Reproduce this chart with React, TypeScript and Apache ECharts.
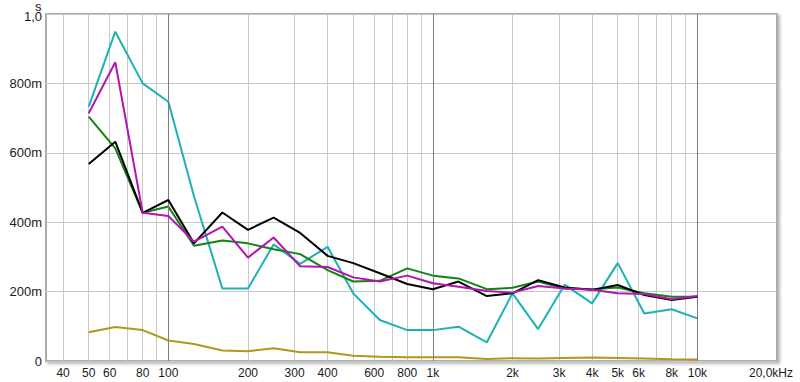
import React, { useEffect, useRef } from "react";
import * as echarts from "echarts";

const freqs = [50, 63, 80, 100, 125, 160, 200, 250, 315, 400, 500, 630, 800, 1000, 1250, 1600, 2000, 2500, 3150, 4000, 5000, 6300, 8000, 10000];

const cyanValues = [0.733, 0.949, 0.8, 0.747, 0.475, 0.209, 0.209, 0.336, 0.28, 0.329, 0.195, 0.118, 0.089, 0.089, 0.099, 0.054, 0.195, 0.092, 0.22, 0.166, 0.282, 0.137, 0.149, 0.123];
const magentaValues = [0.714, 0.861, 0.427, 0.418, 0.344, 0.387, 0.298, 0.356, 0.273, 0.271, 0.241, 0.229, 0.246, 0.224, 0.214, 0.202, 0.197, 0.216, 0.209, 0.205, 0.195, 0.193, 0.178, 0.187];
const greenValues = [0.704, 0.613, 0.427, 0.445, 0.332, 0.347, 0.339, 0.322, 0.308, 0.262, 0.229, 0.231, 0.267, 0.246, 0.238, 0.207, 0.211, 0.229, 0.209, 0.207, 0.212, 0.195, 0.185, 0.185];
const blackValues = [0.568, 0.632, 0.427, 0.464, 0.339, 0.428, 0.378, 0.413, 0.369, 0.303, 0.282, 0.253, 0.222, 0.207, 0.229, 0.187, 0.195, 0.233, 0.212, 0.205, 0.219, 0.19, 0.176, 0.185];
const oliveValues = [0.083, 0.098, 0.089, 0.059, 0.049, 0.03, 0.028, 0.037, 0.025, 0.025, 0.015, 0.012, 0.011, 0.011, 0.011, 0.006, 0.008, 0.007, 0.009, 0.01, 0.009, 0.007, 0.005, 0.004];

const gridFreqs = [40, 50, 60, 70, 80, 90, 100, 200, 300, 400, 500, 600, 700, 800, 900, 1000, 2000, 3000, 4000, 5000, 6000, 7000, 8000, 9000, 10000];
const majorFreqs = [100, 1000, 10000];
const labelFreqs = [40, 50, 60, 80, 100, 200, 300, 400, 600, 800, 1000, 2000, 3000, 4000, 5000, 6000, 8000, 10000, 20000];
const labelTexts = ["40", "50", "60", "80", "100", "200", "300", "400", "600", "800", "1k", "2k", "3k", "4k", "5k", "6k", "8k", "10k", "20,0kHz"];

const yTicks = [0, 0.2, 0.4, 0.6, 0.8, 1.0];
const yTickTexts = ["0", "200m", "400m", "600m", "800m", "1,0"];

const X_MIN_FREQ = 34.47;
const X_MAX_FREQ = 20000;

const FONT = '"Liberation Sans", Arial, sans-serif';

const lg = (f: number) => Math.log10(f);

export default function App() {
  const ref = useRef<HTMLDivElement>(null);

  useEffect(() => {
    if (!ref.current) return;
    const chart = echarts.init(ref.current, undefined, { renderer: "svg" });

    const mk = (name: string, values: number[], color: string, z: number) => ({
      name,
      type: "line",
      data: freqs.map((f, i) => [lg(f), values[i]]),
      symbol: "none",
      z,
      lineStyle: { color, width: 2 },
      itemStyle: { color },
    });

    const labelMap: Record<number, string> = {};
    labelFreqs.forEach((f, i) => (labelMap[f] = labelTexts[i]));

    chart.setOption({
      animation: false,
      grid: {
        left: 46,
        top: 14,
        right: 23,
        bottom: 21,
        show: true,
        backgroundColor: "#ffffff",
        borderColor: "#acacac",
        borderWidth: 2,
        shadowColor: "rgba(0,0,0,0.28)",
        shadowBlur: 3,
        shadowOffsetX: 2,
        shadowOffsetY: 2,
      },
      xAxis: {
        type: "value",
        min: lg(X_MIN_FREQ),
        max: lg(X_MAX_FREQ),
        axisLine: { show: false },
        axisTick: { show: false, customValues: gridFreqs.map(lg) },
        splitLine: { show: true, lineStyle: { color: "#c8c8c8", width: 1 } },
        axisLabel: {
          customValues: labelFreqs.map(lg),
          margin: 6,
          fontSize: 12,
          fontFamily: FONT,
          color: "#1a1a1a",
          formatter: (v: number) => {
            const f = Math.round(Math.pow(10, v));
            const t = labelMap[f] ?? "";
            return f === 20000 ? "{e|" + t + "}" : t;
          },
          rich: { e: { fontSize: 12, fontFamily: FONT, color: "#1a1a1a", padding: [0, 12, 0, 0] } },
        },
      },
      yAxis: {
        type: "value",
        min: 0,
        max: 1,
        interval: 0.2,
        axisLine: { show: false },
        axisTick: { show: false },
        splitLine: { show: true, lineStyle: { color: "#c8c8c8", width: 1 } },
        axisLabel: {
          margin: 4,
          fontSize: 13,
          fontFamily: FONT,
          color: "#1a1a1a",
          formatter: (v: number) => {
            const idx = yTicks.findIndex((t) => Math.abs(t - v) < 1e-6);
            if (idx < 0) return "";
            return idx === yTicks.length - 1 ? "{t|" + yTickTexts[idx] + "}" : yTickTexts[idx];
          },
          rich: { t: { fontSize: 13, fontFamily: FONT, color: "#1a1a1a", padding: [4, 0, 0, 0] } },
        },
      },
      graphic: [
        {
          type: "text",
          left: 35,
          top: 0,
          style: { text: "s", fontSize: 13, lineHeight: 9, fontFamily: FONT, fill: "#1a1a1a" },
        },
      ],
      series: [
        {
          name: "major",
          type: "line",
          data: [],
          z: 1,
          silent: true,
          markLine: {
            silent: true,
            symbol: "none",
            label: { show: false },
            lineStyle: { color: "#7c7c7c", width: 1, type: "solid" },
            data: majorFreqs.map((f) => ({ xAxis: lg(f) })),
          },
        },
        mk("olive", oliveValues, "#b4961c", 2),
        mk("cyan", cyanValues, "#1cb2b4", 3),
        mk("green", greenValues, "#148214", 4),
        mk("black", blackValues, "#000000", 5),
        mk("magenta", magentaValues, "#b414b4", 6),
      ],
    });

    return () => chart.dispose();
  }, []);

  return (
    <div
      ref={ref}
      style={{ position: "fixed", left: 0, top: 0, width: 800, height: 382, background: "#ffffff" }}
    />
  );
}
